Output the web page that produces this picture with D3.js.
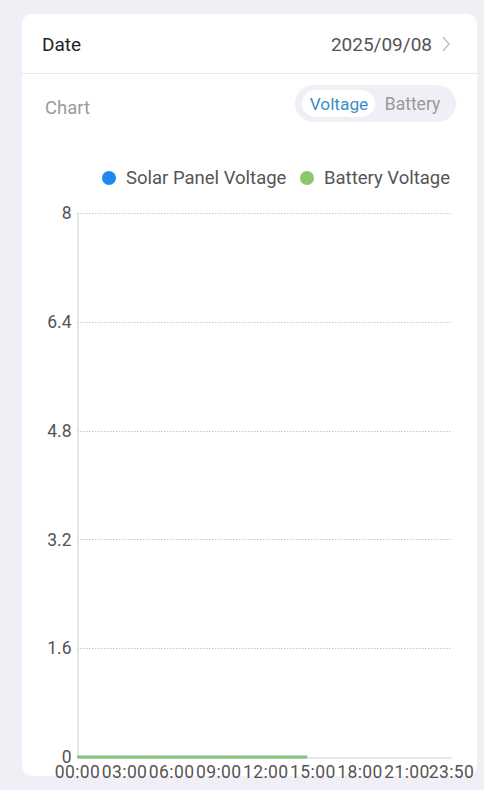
<!DOCTYPE html>
<html>
<head>
<meta charset="utf-8">
<script src="https://cdn.jsdelivr.net/npm/d3@7"></script>
<style>
  html, body { margin: 0; padding: 0; background: #efeff5; }
  svg { display: block; font-family: Roboto, "Noto Sans", sans-serif; }
</style>
</head>
<body>
<svg id="chart" width="484" height="790"></svg>
<script>
// Ten-minute slots across the day
const times = [
  "00:00","00:10","00:20","00:30","00:40","00:50","01:00","01:10","01:20","01:30","01:40","01:50",
  "02:00","02:10","02:20","02:30","02:40","02:50","03:00","03:10","03:20","03:30","03:40","03:50",
  "04:00","04:10","04:20","04:30","04:40","04:50","05:00","05:10","05:20","05:30","05:40","05:50",
  "06:00","06:10","06:20","06:30","06:40","06:50","07:00","07:10","07:20","07:30","07:40","07:50",
  "08:00","08:10","08:20","08:30","08:40","08:50","09:00","09:10","09:20","09:30","09:40","09:50",
  "10:00","10:10","10:20","10:30","10:40","10:50","11:00","11:10","11:20","11:30","11:40","11:50",
  "12:00","12:10","12:20","12:30","12:40","12:50","13:00","13:10","13:20","13:30","13:40","13:50",
  "14:00","14:10","14:20","14:30","14:40","14:50","15:00","15:10","15:20","15:30","15:40","15:50",
  "16:00","16:10","16:20","16:30","16:40","16:50","17:00","17:10","17:20","17:30","17:40","17:50",
  "18:00","18:10","18:20","18:30","18:40","18:50","19:00","19:10","19:20","19:30","19:40","19:50",
  "20:00","20:10","20:20","20:30","20:40","20:50","21:00","21:10","21:20","21:30","21:40","21:50",
  "22:00","22:10","22:20","22:30","22:40","22:50","23:00","23:10","23:20","23:30","23:40","23:50"
];

// Readings recorded so far (00:00 – 14:40)
const solarVoltage = [
  0,0,0,0,0,0,0,0,0,0,0,0, 0,0,0,0,0,0,0,0,0,0,0,0, 0,0,0,0,0,0,0,0,0,0,0,0,
  0,0,0,0,0,0,0,0,0,0,0,0, 0,0,0,0,0,0,0,0,0,0,0,0, 0,0,0,0,0,0,0,0,0,0,0,0,
  0,0,0,0,0,0,0,0,0,0,0,0, 0,0,0,0,0
];
const batteryVoltage = [
  0,0,0,0,0,0,0,0,0,0,0,0, 0,0,0,0,0,0,0,0,0,0,0,0, 0,0,0,0,0,0,0,0,0,0,0,0,
  0,0,0,0,0,0,0,0,0,0,0,0, 0,0,0,0,0,0,0,0,0,0,0,0, 0,0,0,0,0,0,0,0,0,0,0,0,
  0,0,0,0,0,0,0,0,0,0,0,0, 0,0,0,0,0
];

const xTickLabels = ["00:00","03:00","06:00","09:00","12:00","15:00","18:00","21:00","23:50"];
const yTicks = [0, 1.6, 3.2, 4.8, 6.4, 8];

const seriesNames = ["Solar Panel Voltage", "Battery Voltage"];
const seriesColors = ["#1e88f0", "#8cc66c"];

const svg = d3.select("#chart");

// Card
svg.append("rect")
  .attr("x", 22).attr("y", 14).attr("width", 455).attr("height", 762)
  .attr("rx", 10).attr("fill", "#ffffff");

// Header row
svg.append("text").attr("x", 42).attr("y", 44).attr("dy", "0.35em")
  .attr("font-size", 19).attr("fill", "#222").text("Date");
svg.append("text").attr("x", 432).attr("y", 44).attr("dy", "0.35em")
  .attr("text-anchor", "end").attr("font-size", 19).attr("fill", "#555").text("2025/09/08");
svg.append("path").attr("d", "M443,37 L449,44 L443,51")
  .attr("fill", "none").attr("stroke", "#c4c4c4").attr("stroke-width", 1.6);
svg.append("line").attr("x1", 22).attr("x2", 477).attr("y1", 73.5).attr("y2", 73.5)
  .attr("stroke", "#e6e6ea").attr("stroke-width", 1);

// Chart title and toggle
svg.append("text").attr("x", 45).attr("y", 108).attr("dy", "0.35em")
  .attr("font-size", 18.5).attr("fill", "#9a9a9a").text("Chart");
svg.append("rect").attr("x", 295).attr("y", 85).attr("width", 161).attr("height", 37)
  .attr("rx", 18.5).attr("fill", "#efeff5");
svg.append("rect").attr("x", 302).attr("y", 90).attr("width", 73).attr("height", 27)
  .attr("rx", 13.5).attr("fill", "#ffffff");
svg.append("text").attr("x", 339).attr("y", 104).attr("dy", "0.35em")
  .attr("text-anchor", "middle").attr("font-size", 17.3).attr("fill", "#3b8fc9").text("Voltage");
svg.append("text").attr("x", 412.5).attr("y", 104).attr("dy", "0.35em")
  .attr("text-anchor", "middle").attr("font-size", 17.5).attr("fill", "#9a9a9a").text("Battery");

// Legend
const legendX = [109, 307];
seriesNames.forEach((name, i) => {
  svg.append("circle").attr("cx", legendX[i]).attr("cy", 178).attr("r", 7)
    .attr("fill", seriesColors[i]);
  svg.append("text").attr("x", legendX[i] + 17).attr("y", 178).attr("dy", "0.35em")
    .attr("font-size", 18.5).attr("fill", "#555").text(name);
});

// Plot area
const plotLeft = 77, plotRight = 451, plotTop = 213, plotBottom = 757;
const x = d3.scalePoint().domain(times).range([plotLeft, plotRight]);
const y = d3.scaleLinear().domain([0, 8]).range([plotBottom, plotTop]);

// Gridlines
const grid = svg.append("g");
grid.selectAll("line").data(yTicks.filter(d => d > 0)).join("line")
  .attr("x1", plotLeft).attr("x2", plotRight)
  .attr("y1", d => Math.round(y(d)) + 0.5).attr("y2", d => Math.round(y(d)) + 0.5)
  .attr("stroke", "#c8c8c8").attr("stroke-width", 1).attr("stroke-dasharray", "1.5,1.5");

// Y axis
const yAxis = svg.append("g").attr("transform", `translate(${plotLeft + 0.5},0)`)
  .call(d3.axisLeft(y).tickValues(yTicks).tickSize(0).tickPadding(6).tickFormat(d3.format("~g")));
yAxis.select(".domain").attr("stroke", "#cfcfcf");
yAxis.selectAll("text").attr("font-size", 17.5).attr("fill", "#555").attr("font-family", "Roboto, sans-serif");

// X axis
const xAxis = svg.append("g").attr("transform", `translate(0,${plotBottom + 0.5})`)
  .call(d3.axisBottom(x).tickValues(xTickLabels).tickSize(0).tickPadding(8));
xAxis.select(".domain").attr("stroke", "#cfcfcf");
xAxis.selectAll("text").attr("font-size", 17.5).attr("fill", "#555")
  .attr("font-family", "Roboto, sans-serif").attr("letter-spacing", "0.4px");

// Series lines
const line = d3.line().x((d, i) => x(times[i])).y(d => y(d));
[solarVoltage, batteryVoltage].forEach((vals, i) => {
  svg.append("path").datum(vals)
    .attr("d", line)
    .attr("fill", "none")
    .attr("stroke", seriesColors[i])
    .attr("stroke-width", 2.5);
});
</script>
</body>
</html>
